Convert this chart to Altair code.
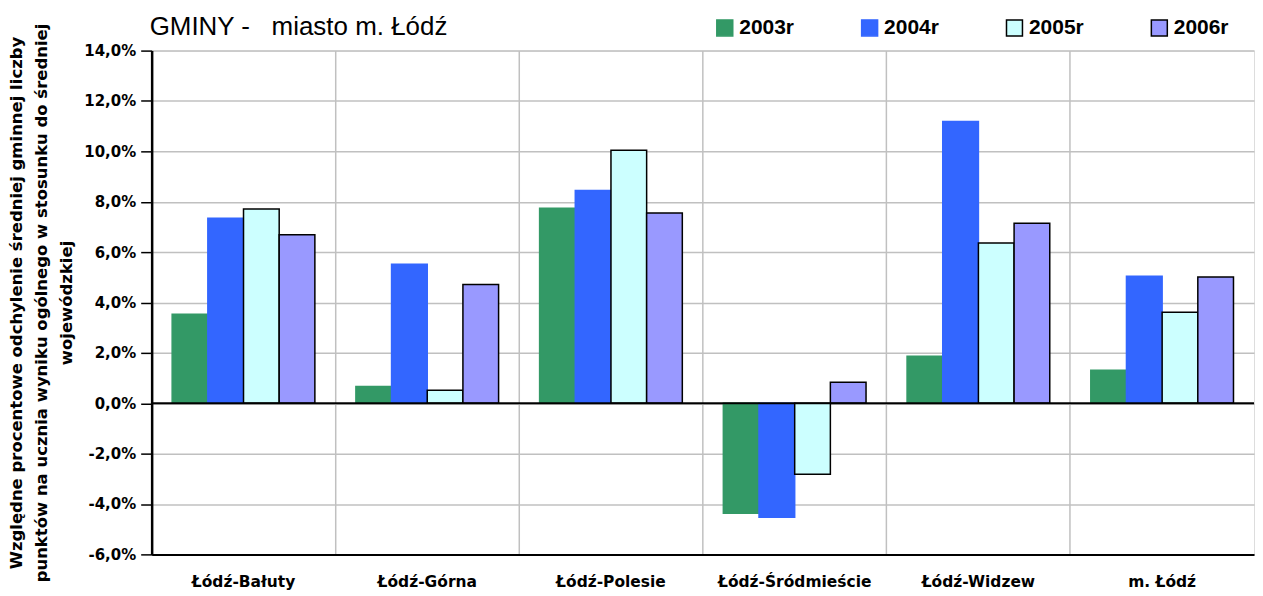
import altair as alt
import pandas as pd

categories = ["Łódź-Bałuty", "Łódź-Górna", "Łódź-Polesie", "Łódź-Śródmieście", "Łódź-Widzew", "m. Łódź"]
years = ["2003r", "2004r", "2005r", "2006r"]
v2003 = [3.53, 0.67, 7.74, -4.37, 1.87, 1.31]
v2004 = [7.34, 5.52, 8.45, -4.53, 11.19, 5.04]
v2005 = [7.71, 0.52, 10.04, -2.82, 6.36, 3.61]
v2006 = [6.69, 4.71, 7.55, 0.83, 7.15, 5.01]
fill_colors = ["#339966", "#3366ff", "#ccffff", "#9999ff"]
stroke_colors = ["#339966", "#3366ff", "#000000", "#000000"]
y_ticks = [-6, -4, -2, 0, 2, 4, 6, 8, 10, 12, 14]

W = 1105
H = 505

rows = []
for yr, vals in zip(years, [v2003, v2004, v2005, v2006]):
    for c, v in zip(categories, vals):
        rows.append({"cat": c, "year": yr, "value": v})
df = pd.DataFrame(rows)

x_scale = alt.Scale(domain=categories, paddingInner=0, paddingOuter=0)
x_enc = alt.X("cat:N", sort=categories, title=None, scale=x_scale,
              axis=alt.Axis(labelAngle=0, labelAlign="center", bandPosition=0,
                            grid=True, gridColor="#c0c0c0", gridWidth=1.5,
                            labelFont="DejaVu Sans", labelFontWeight="bold",
                            labelFontSize=15.5, labelColor="black", ticks=False, tickSize=0,
                            labelPadding=20, domainColor="black", domainWidth=2))
y_scale = alt.Scale(domain=[-6, 14], nice=False, zero=False)

bars = alt.Chart(df).mark_bar(strokeWidth=1.5).encode(
    x=x_enc,
    xOffset=alt.XOffset("year:N", sort=years,
                        scale=alt.Scale(domain=years, paddingInner=0, paddingOuter=0.575)),
    y=alt.Y("value:Q", scale=y_scale, title=[
        "Względne procentowe odchylenie średniej gminnej liczby",
        "punktów na ucznia wyniku ogólnego w stosunku do średniej",
        "wojewódzkiej"],
        axis=alt.Axis(values=y_ticks,
                      labelExpr="(datum.value < 0 ? '-' : '') + replace(format(abs(datum.value), '.1f'), '.', ',') + '%'",
                      labelFont="DejaVu Sans", labelFontWeight="bold", labelFontSize=15,
                      labelColor="black", tickColor="black", tickSize=11, tickWidth=1.5,
                      domainColor="black", domainWidth=2.5, labelPadding=5,
                      gridColor="#c0c0c0", gridWidth=1.5,
                      titleFont="DejaVu Sans", titleFontWeight="bold", titleFontSize=16.5,
                      titleColor="black", titleLineHeight=25, titlePadding=9)),
    fill=alt.Fill("year:N", sort=years, scale=alt.Scale(domain=years, range=fill_colors),
                  legend=alt.Legend(title=None, orient="none", direction="horizontal",
                                    legendX=564, legendY=-33.5, columns=4, columnPadding=64.2,
                                    symbolType="square", symbolSize=256, symbolStrokeWidth=1.5,
                                    labelFont="Liberation Sans", labelFontWeight="bold",
                                    labelFontSize=21, labelColor="black", labelOffset=4)),
    stroke=alt.Stroke("year:N", sort=years, scale=alt.Scale(domain=years, range=stroke_colors),
                      legend=None),
)

zero = alt.Chart(pd.DataFrame({"z": [0]})).mark_rule(color="black", strokeWidth=2).encode(
    y=alt.Y("z:Q", scale=y_scale)
)

chart = alt.layer(bars, zero).properties(
    width=W, height=H,
    padding={"top": 5, "left": 0, "right": 0, "bottom": 0},
    title=alt.TitleParams("GMINY - \u00a0\u00a0miasto m. Łódź", anchor="start", frame="group",
                          font="Liberation Sans", fontSize=26, fontWeight="normal",
                          color="black", offset=-22.5, dx=-2),
).configure_view(stroke="#c0c0c0", strokeWidth=1.5).configure(background="white")

chart.save("out.html", embed_options={"renderer": "svg", "actions": False})
